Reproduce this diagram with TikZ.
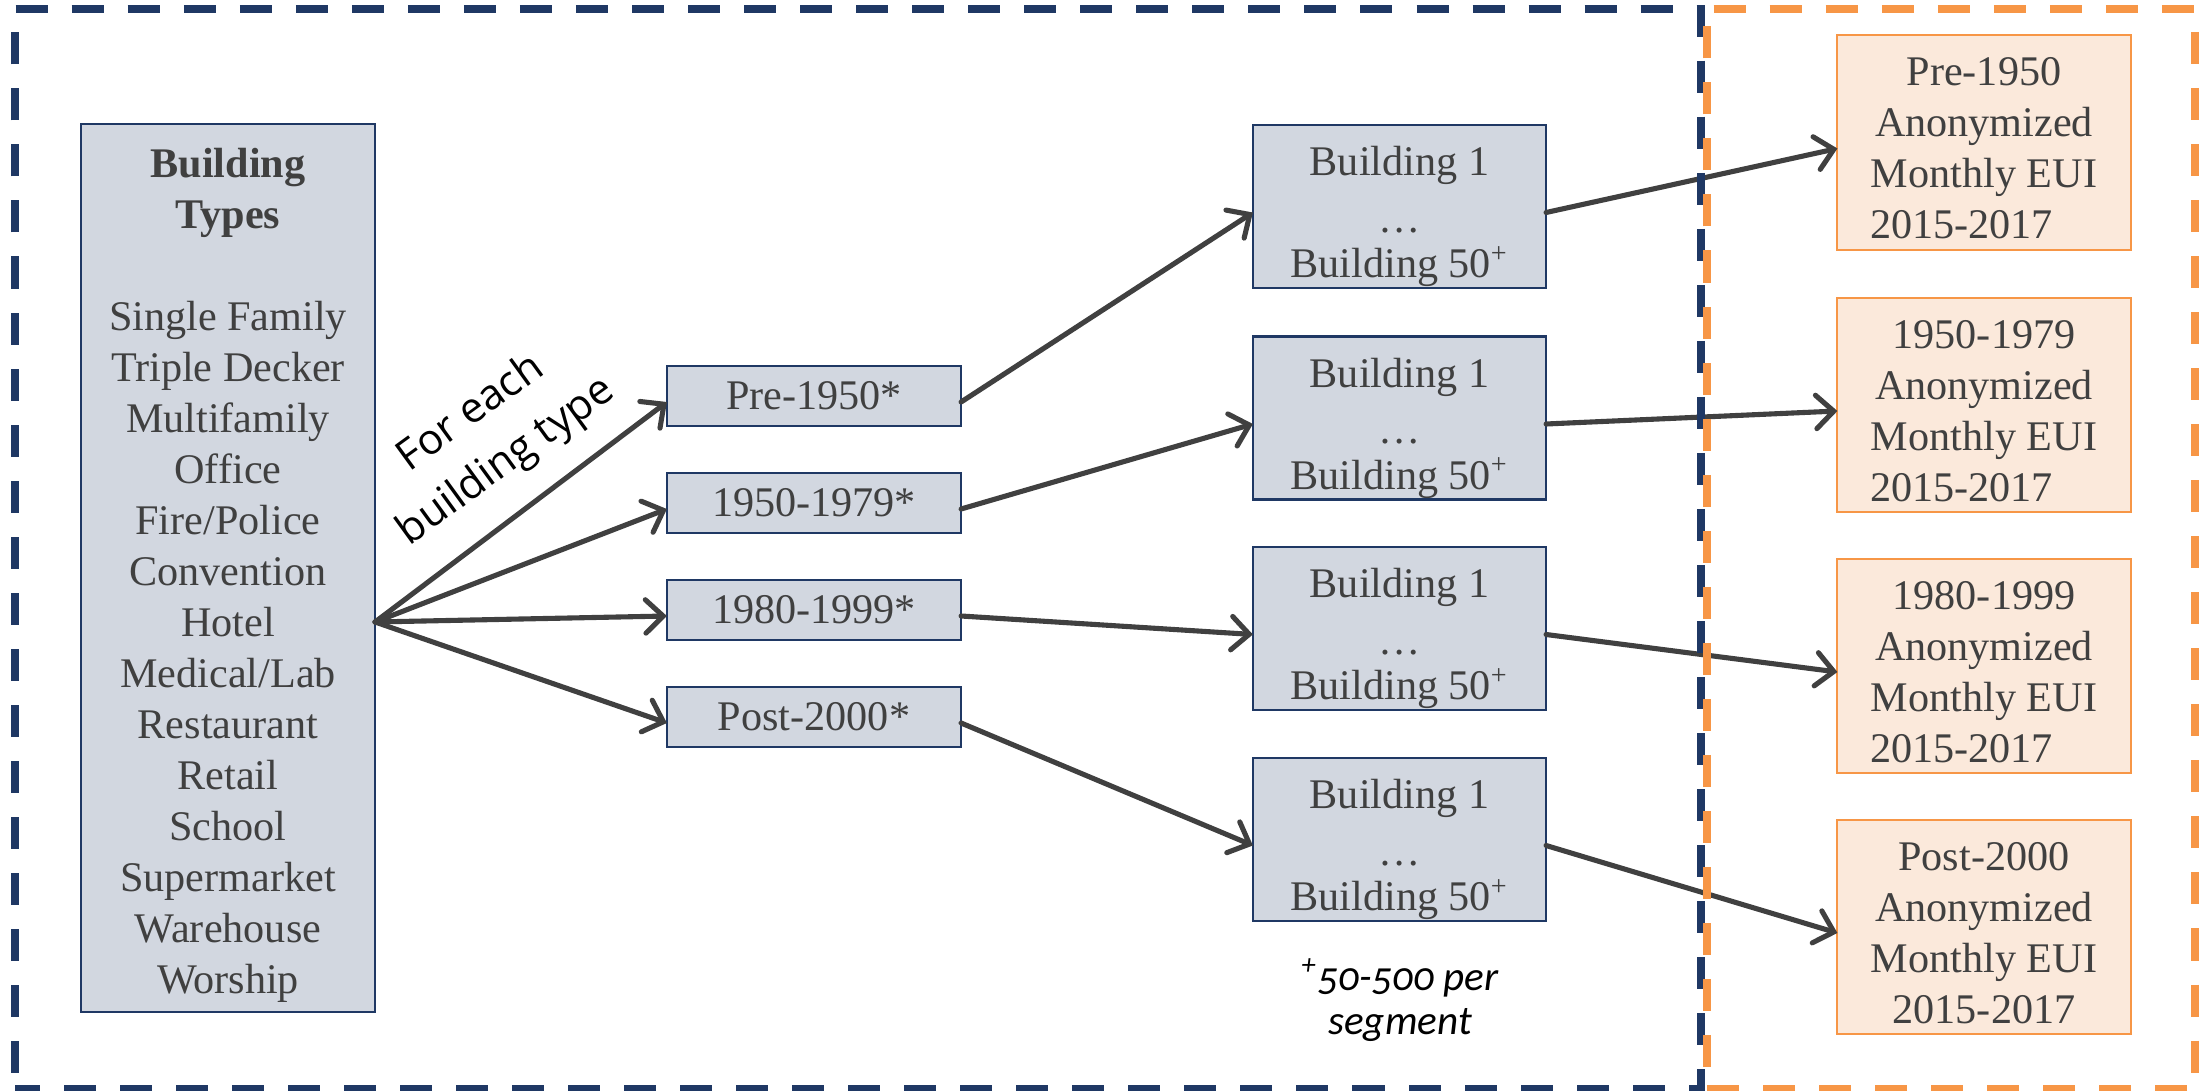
\documentclass[tikz,border=0pt]{standalone}
\usepackage{fontspec}
\setmainfont{Liberation Serif}
\newfontfamily\labelsans{Open Sans}
\newfontfamily\notesans[Numbers=OldStyle]{Carlito}
\usetikzlibrary{arrows.meta,calc}

\definecolor{frameblue}{HTML}{1F3864}
\definecolor{frameorange}{HTML}{F79646}
\definecolor{boxgray}{HTML}{D2D7E0}
\definecolor{boxpeach}{HTML}{FBE9DB}
\definecolor{ink}{HTML}{404040}

\begin{document}
\begin{tikzpicture}[x=0.01cm, y=-0.01cm,
  every node/.style={inner sep=0pt, outer sep=0pt},
  boxtext/.style={text=ink, align=center, font=\fontsize{12}{14.5}\selectfont},
  graybox/.style={boxtext, line width=0.6pt, draw=frameblue, fill=boxgray,
    minimum width=2.94cm},
  peachbox/.style={line width=0.6pt, draw=frameorange, fill=boxpeach,
    minimum width=2.93cm, minimum height=2.14cm},
  flow/.style={draw=ink, line width=1.45pt, line cap=round,
    -{Straight Barb[length=5pt,width=9.5pt,line cap=round]}},
  frame/.style={line width=0.08cm, dash pattern=on 0.32cm off 0.24cm}
]
\useasboundingbox (0,0) rectangle (2202,1091);

% building type list
\node[graybox, minimum height=8.88cm] (types) at (228,568) {};
\node[boxtext] (typesText) at ($(types.center)+(0,7)$)
  {\textbf{Building}\\\textbf{Types}\\[14.5pt]Single Family\\Triple Decker\\
   Multifamily\\Office\\Fire/Police\\Convention\\Hotel\\Medical/Lab\\
   Restaurant\\Retail\\School\\Supermarket\\Warehouse\\Worship};

% construction periods
\node[graybox, minimum height=0.60cm] (p1) at (814,396) {Pre-1950*};
\node[graybox, minimum height=0.60cm] (p2) at (814,503) {1950-1979*};
\node[graybox, minimum height=0.60cm] (p3) at (814,610) {1980-1999*};
\node[graybox, minimum height=0.60cm] (p4) at (814,717) {Post-2000*};

% building samples per segment
\foreach \n/\y in {1/206.5,2/418,3/628.5,4/839.5}{
  \node[graybox, minimum width=2.93cm, minimum height=1.63cm] (b\n) at (1399.5,\y) {};
  \node[boxtext] (b\n text) at ($(b\n.center)+(0,10)$)
    {Building 1\\[1.6pt]\ldots\\[-1.6pt]Building 50\textsuperscript{+}};
}

% anonymized outputs
\foreach \n/\y/\period/\pad in {1/142.5/Pre-1950/0.45cm,2/405/1950-1979/0.45cm,
                                 3/666/1980-1999/0.45cm,4/927/Post-2000/0cm}{
  \node[peachbox] (o\n) at (1984,\y) {};
  \node[boxtext] (o\n text) at ($(o\n.center)+(0,6)$)
    {\period\\Anonymized\\Monthly EUI\\2015-2017\hspace*{\pad}};
}

% labels
\node[rotate=36, align=center, font=\labelsans\fontsize{12}{17}\selectfont]
  (each) at (489,438) {For each\\building type};
\node[align=center, font=\notesans\itshape\fontsize{11.7}{12.5}\selectfont]
  (note) at (1400,1000) {\textsuperscript{+}50-500 per\\segment};

% connectors
\coordinate (fan) at ($(types.east)+(0,54)$);
\foreach \n in {1,2,3,4}{
  \draw[flow] (fan) -- ($(p\n.west)+(0,6)$);
  \draw[flow] ($(p\n.east)+(0,6)$) -- ($(b\n.west)+(0,6)$);
  \draw[flow] ($(b\n.east)+(0,6)$) -- ($(o\n.west)+(0,6)$);
}

% dashed frames
\draw[frame, draw=frameblue, dash phase=0.40cm]
  (15,1089) -- (15,9) -- (1701,9) -- (1701,1089) -- cycle;
\draw[frame, draw=frameorange, dash phase=0.34cm]
  (1707,1089) -- (1707,9) -- (2195,9) -- (2195,1089) -- cycle;
\end{tikzpicture}
\end{document}
